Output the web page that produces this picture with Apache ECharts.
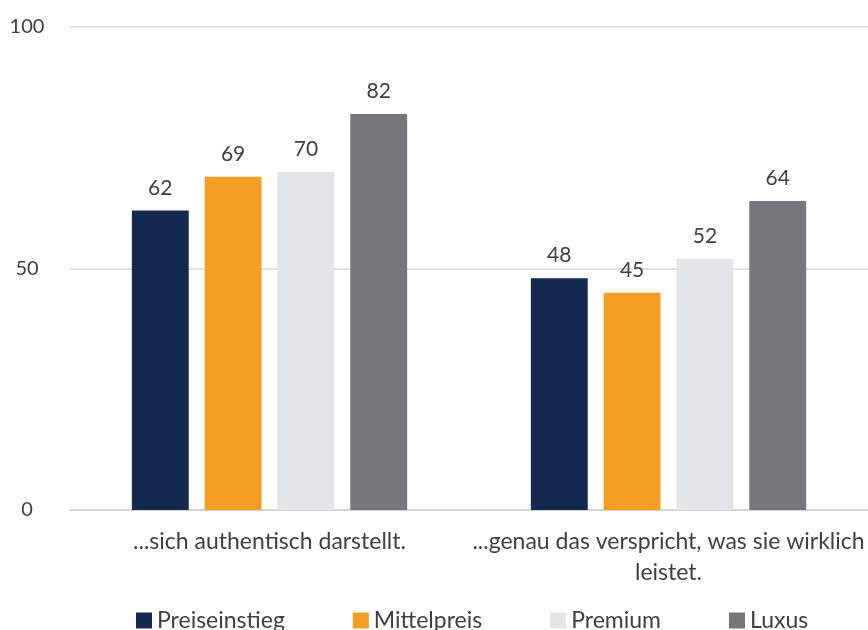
<!DOCTYPE html>
<html>
<head>
<meta charset="utf-8">
<script src="https://cdn.jsdelivr.net/npm/echarts@6/dist/echarts.min.js"></script>
<style>
  html, body { margin: 0; padding: 0; background: #ffffff; }
  #chart { width: 868px; height: 630px; }
</style>
</head>
<body>
<div id="chart"></div>
<script>
// Statement categories (x axis)
const categories = [
  '...sich authentisch darstellt.',
  '...genau das verspricht, was sie wirklich\nleistet.'
];

// Price segments and their values per statement
const seriesNames = ['Preiseinstieg', 'Mittelpreis', 'Premium', 'Luxus'];
const preiseinstieg = [62, 48];
const mittelpreis = [69, 45];
const premium = [70, 52];
const luxus = [82, 64];

// Y axis ticks
const yTicks = [0, 50, 100];

const colors = ['#132a4e', '#f59e24', '#e3e6e9', '#74787b'];
const textColor = '#404040';
const fontFamily = 'Lato, "Open Sans", sans-serif';

const values = [preiseinstieg, mittelpreis, premium, luxus];

const chart = echarts.init(document.getElementById('chart'));

chart.setOption({
  animation: false,
  color: colors,
  textStyle: { fontFamily: fontFamily, color: textColor },
  grid: { left: 70, right: -7, top: 27, bottom: 120 },
  legend: {
    data: seriesNames,
    left: 131,
    top: 604,
    itemWidth: 16,
    itemHeight: 16,
    itemGap: 68,
    icon: 'rect',
    textStyle: { fontSize: 23, color: textColor, fontFamily: fontFamily }
  },
  xAxis: {
    type: 'category',
    data: categories,
    axisTick: { show: false },
    axisLine: { lineStyle: { color: '#d0d0d0', width: 1.5 } },
    axisLabel: {
      fontSize: 23,
      color: textColor,
      margin: 16,
      lineHeight: 31,
      interval: 0
    }
  },
  yAxis: {
    type: 'value',
    min: yTicks[0],
    max: yTicks[yTicks.length - 1],
    interval: yTicks[1] - yTicks[0],
    axisLine: { show: false },
    axisTick: { show: false },
    splitLine: { lineStyle: { color: '#d9d9d9', width: 1.5 } },
    axisLabel: {
      fontSize: 20,
      color: textColor,
      align: 'center',
      margin: 43
    }
  },
  series: seriesNames.map((name, i) => ({
    name: name,
    type: 'bar',
    data: values[i],
    barGap: '28%',
    barCategoryGap: '31%',
    itemStyle: { color: colors[i] },
    label: {
      show: true,
      position: 'top',
      distance: 12,
      fontSize: 21,
      color: textColor
    }
  }))
});
</script>
</body>
</html>
